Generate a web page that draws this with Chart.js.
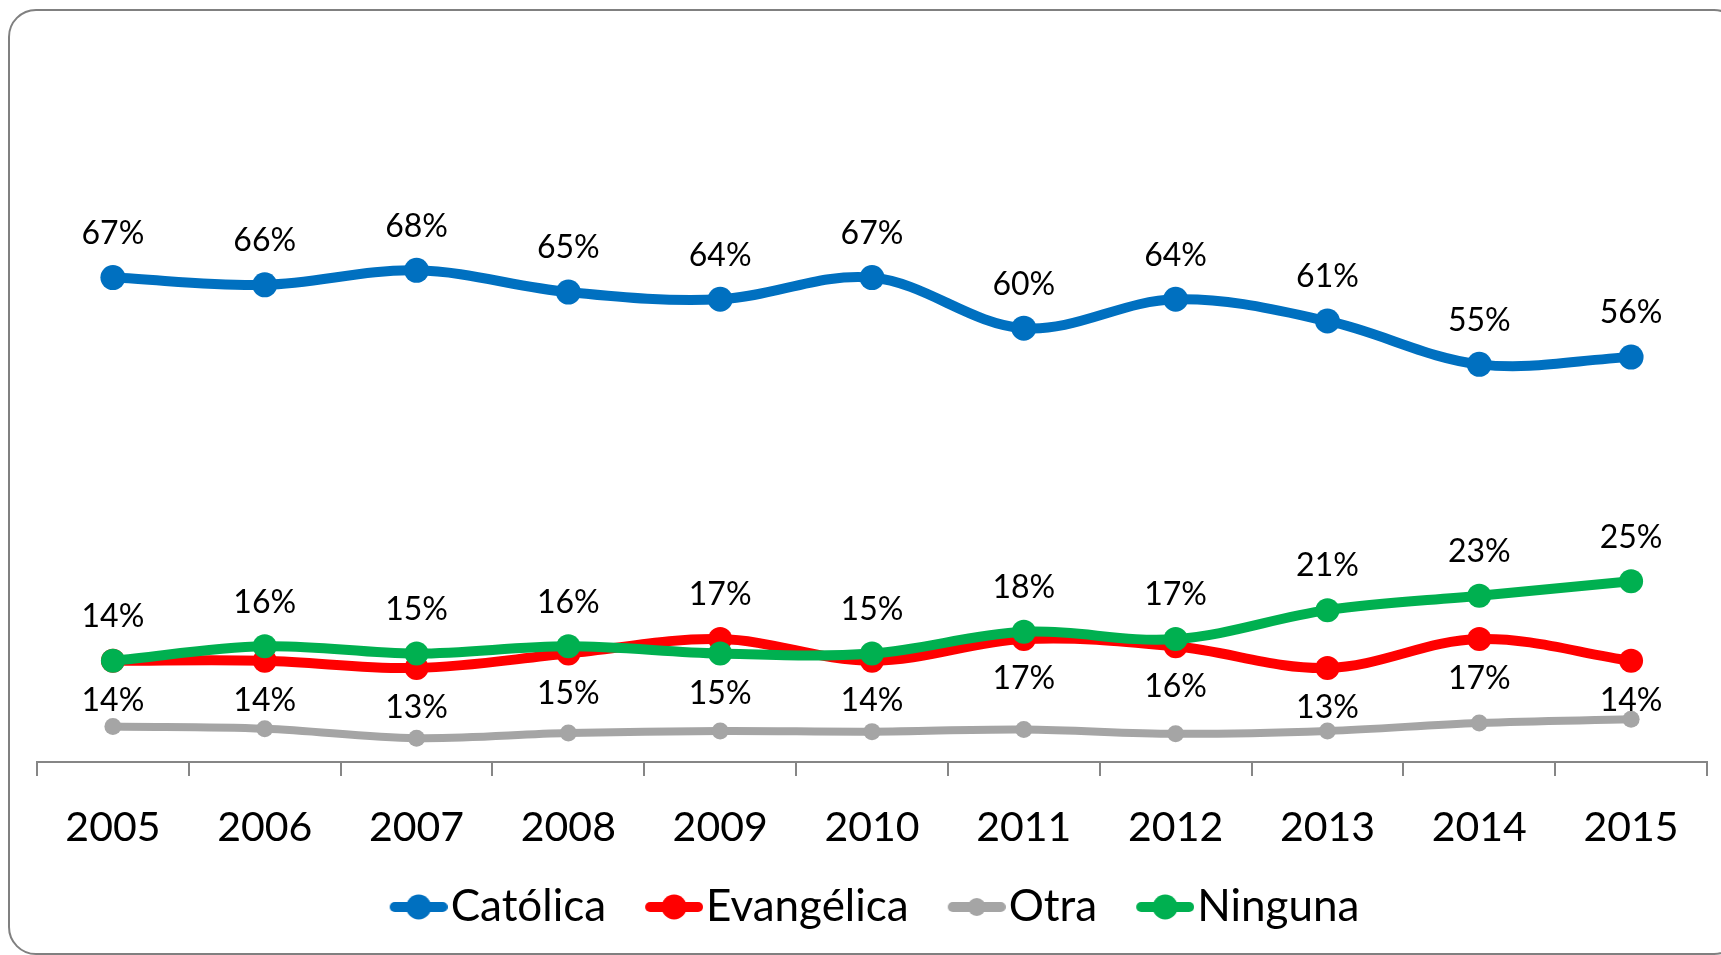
<!DOCTYPE html>
<html>
<head>
<meta charset="utf-8">
<script src="https://cdn.jsdelivr.net/npm/chart.js@4/dist/chart.umd.min.js"></script>
<style>
  html, body { margin: 0; padding: 0; background: #fff; }
  #wrap { position: relative; width: 1721px; height: 955px; overflow: hidden; }
  #frame {
    position: absolute; left: 8px; top: 9px; width: 1730px; height: 942px;
    border: 2px solid #808080; border-radius: 28px;
  }
  #box { position: absolute; left: 0; top: 0; width: 1721px; height: 955px; }
</style>
</head>
<body>
<div id="wrap">
  <div id="frame"></div>
  <div id="box"><canvas id="religionChart"></canvas></div>
</div>
<script>
// datos
const years = ['2005', '2006', '2007', '2008', '2009', '2010', '2011', '2012', '2013', '2014', '2015'];
const catolica = [67, 66, 68, 65, 64, 67, 60, 64, 61, 55, 56];
const evangelica = [14, 14, 13, 15, 17, 14, 17, 16, 13, 17, 14];
const otra = [4.9, 4.6, 3.3, 4.0, 4.3, 4.2, 4.5, 3.9, 4.3, 5.4, 5.9]; // sin etiquetas en el original
const ninguna = [14, 16, 15, 16, 15, 15, 18, 17, 21, 23, 25];

const colors = {
    catolica: '#0070C0',
    evangelica: '#FF0000',
    otra: '#A5A5A5',
    ninguna: '#00B050'
};

const FONT = 'Lato, "Liberation Sans", sans-serif';

// icono de leyenda: linea gruesa con un punto al centro
function legendIcon(color, radius) {
    const c = document.createElement('canvas');
    c.width = 106;
    c.height = 28;
    const ctx = c.getContext('2d');
    ctx.strokeStyle = color;
    ctx.lineWidth = 10;
    ctx.lineCap = 'round';
    ctx.beginPath();
    ctx.moveTo(53, 14);
    ctx.lineTo(101, 14);
    ctx.stroke();
    ctx.fillStyle = color;
    ctx.beginPath();
    ctx.arc(77, 14, radius, 0, Math.PI * 2);
    ctx.fill();
    return c;
}

// etiquetas de datos (arriba / abajo del punto)
const valueLabels = {
    id: 'valueLabels',
    afterLayout(chart) {
        // la leyenda del original esta un poco a la izquierda del centro
        chart.legend.left -= 12;
        chart.legend.right -= 12;
    },
    afterDatasetsDraw(chart) {
        const ctx = chart.ctx;
        ctx.save();
        ctx.font = '32px ' + FONT;
        ctx.fillStyle = '#000';
        ctx.textAlign = 'center';
        ctx.textBaseline = 'middle';
        chart.data.datasets.forEach(function (ds, i) {
            if (!ds.showLabels) return;
            const meta = chart.getDatasetMeta(i);
            meta.data.forEach(function (pt, j) {
                let above = true;
                if (ds.label === 'Evangélica') above = evangelica[j] > ninguna[j];
                if (ds.label === 'Ninguna') above = ninguna[j] >= evangelica[j];
                const y = above ? pt.y - 44 : pt.y + 40;
                ctx.fillText(ds.data[j] + '%', pt.x, y);
            });
        });
        ctx.restore();
    }
};

const datasets = [
    { label: 'Católica', data: catolica, color: colors.catolica, radius: 12.5, width: 10, order: 0, showLabels: true },
    { label: 'Evangélica', data: evangelica, color: colors.evangelica, radius: 12, width: 10, order: 2, showLabels: true },
    { label: 'Otra', data: otra, color: colors.otra, radius: 8.5, width: 8, order: 3, showLabels: false },
    { label: 'Ninguna', data: ninguna, color: colors.ninguna, radius: 12, width: 10, order: 1, showLabels: true }
].map(function (d) {
    return {
        label: d.label,
        data: d.data,
        borderColor: d.color,
        backgroundColor: d.color,
        borderWidth: d.width,
        pointRadius: d.radius,
        pointBorderWidth: 0,
        pointBackgroundColor: d.color,
        tension: 0.35,
        fill: false,
        order: d.order,
        showLabels: d.showLabels,
        icon: legendIcon(d.color, d.label === 'Otra' ? 9 : 12.5)
    };
});

new Chart(document.getElementById('religionChart'), {
    type: 'line',
    data: { labels: years, datasets: datasets },
    plugins: [valueLabels],
    options: {
        responsive: true,
        maintainAspectRatio: false,
        animation: false,
        layout: { padding: { left: 37, right: 14, top: 39, bottom: 16 } },
        scales: {
            x: {
                offset: true,
                grid: { display: true, drawOnChartArea: false, drawTicks: true, tickLength: 14, color: '#868686', lineWidth: 2, offset: true },
                border: { display: true, color: '#868686', width: 2 },
                ticks: { color: '#000', padding: 27, font: { family: FONT, size: 41 } },
                afterFit: function (scale) { scale.height = 113; }
            },
            y: {
                display: false,
                min: 0,
                max: 100
            }
        },
        plugins: {
            tooltip: { enabled: false },
            legend: {
                position: 'bottom',
                labels: {
                    usePointStyle: true,
                    pointStyleWidth: 68,
                    padding: 10,
                    color: '#000',
                    font: { family: FONT, size: 44 },
                    sort: function (a, b) { return a.datasetIndex - b.datasetIndex; },
                    generateLabels: function (chart) {
                        const items = Chart.defaults.plugins.legend.labels.generateLabels(chart);
                        items.forEach(function (it) {
                            it.pointStyle = chart.data.datasets[it.datasetIndex].icon;
                        });
                        return items;
                    }
                }
            }
        }
    }
});
</script>
</body>
</html>
